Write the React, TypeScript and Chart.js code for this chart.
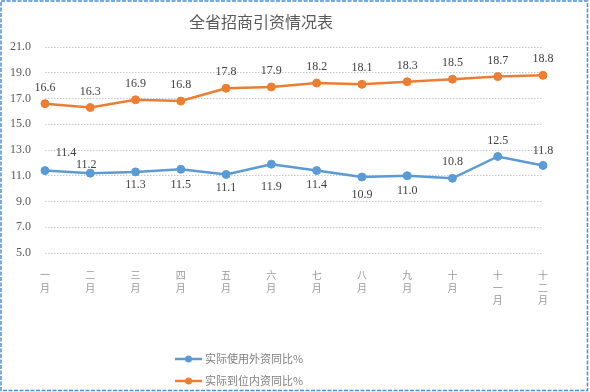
import React, { useEffect, useRef } from "react";
import { Chart, registerables } from "chart.js";

Chart.register(...registerables);

const title = "全省招商引资情况表";
const months = ["一月", "二月", "三月", "四月", "五月", "六月", "七月", "八月", "九月", "十月", "十一月", "十二月"];
const foreignName = "实际使用外资同比%";
const domesticName = "实际到位内资同比%";
const foreignValues = [11.4, 11.2, 11.3, 11.5, 11.1, 11.9, 11.4, 10.9, 11.0, 10.8, 12.5, 11.8];
const domesticValues = [16.6, 16.3, 16.9, 16.8, 17.8, 17.9, 18.2, 18.1, 18.3, 18.5, 18.7, 18.8];
const yMin = 5;
const yMax = 21;
const yStep = 2;

// label placement offsets (style only)
const foreignLabelOffsets: [number, number][] = [
  [21, -18], [-4, -8], [0, 13], [0, 16], [0, 13], [0, 23],
  [0, 14], [0, 18], [0, 15], [0, -16], [0, -16], [0, -15],
];
const domesticLabelOffsets: [number, number][] = months.map(() => [0, -16]);

const BLUE = "#5B9BD5";
const ORANGE = "#ED7D31";
const SERIF = '"Liberation Serif", "Noto Sans CJK SC", serif';
const CJK = '"Noto Sans CJK SC", "Noto Sans", sans-serif';

const decorPlugin = {
  id: "decor",
  afterDraw(chart: any) {
    const ctx = chart.ctx as CanvasRenderingContext2D;
    ctx.save();
    // title
    ctx.fillStyle = "#595959";
    ctx.font = `16px ${CJK}`;
    ctx.textAlign = "center";
    ctx.textBaseline = "middle";
    ctx.fillText(title, 261, 22);

    // data labels
    ctx.font = `12px ${SERIF}`;
    ctx.fillStyle = "#404040";
    const offs = [foreignLabelOffsets, domesticLabelOffsets];
    chart.data.datasets.forEach((ds: any, di: number) => {
      const meta = chart.getDatasetMeta(di);
      meta.data.forEach((pt: any, i: number) => {
        const [dx, dy] = offs[di][i];
        ctx.fillText(Number(ds.data[i]).toFixed(1), pt.x + dx, pt.y + dy);
      });
    });

    // legend
    const items = [
      { name: foreignName, color: BLUE, y: 359 },
      { name: domesticName, color: ORANGE, y: 381 },
    ];
    items.forEach((it) => {
      ctx.strokeStyle = it.color;
      ctx.lineWidth = 2.5;
      ctx.beginPath();
      ctx.moveTo(175, it.y);
      ctx.lineTo(202, it.y);
      ctx.stroke();
      ctx.fillStyle = it.color;
      ctx.beginPath();
      ctx.arc(188.5, it.y, 3.5, 0, Math.PI * 2);
      ctx.fill();
      ctx.fillStyle = "#7f7f7f";
      ctx.font = `11px ${CJK}`;
      ctx.textAlign = "left";
      ctx.fillText(it.name, 205, it.y);
    });

    // frame
    ctx.strokeStyle = "#4a8fd6";
    ctx.lineWidth = 1.5;
    ctx.setLineDash([4, 1.5]);
    ctx.strokeRect(1, 1, 586.5, 389.5);
    ctx.restore();
  },
};

export default function App() {
  const ref = useRef<HTMLCanvasElement>(null);
  useEffect(() => {
    if (!ref.current) return;
    const chart = new Chart(ref.current, {
      type: "line",
      data: {
        labels: months.map((m) => m.split("")),
        datasets: [
          {
            label: foreignName,
            data: foreignValues,
            borderColor: BLUE,
            backgroundColor: BLUE,
            borderWidth: 2.5,
            pointRadius: 4,
            pointBorderWidth: 1,
            pointBackgroundColor: BLUE,
            pointBorderColor: BLUE,
            tension: 0,
          },
          {
            label: domesticName,
            data: domesticValues,
            borderColor: ORANGE,
            backgroundColor: ORANGE,
            borderWidth: 2.5,
            pointRadius: 4,
            pointBorderWidth: 1,
            pointBackgroundColor: ORANGE,
            pointBorderColor: ORANGE,
            tension: 0,
          },
        ],
      },
      options: {
        responsive: false,
        animation: false,
        devicePixelRatio: 1,
        layout: { padding: { left: 0, right: 47, top: 47, bottom: 0 } },
        plugins: {
          legend: { display: false },
          title: { display: false },
          tooltip: { enabled: false },
        },
        scales: {
          x: {
            offset: false,
            grid: { display: false },
            border: { display: false },
            ticks: {
              autoSkip: false,
              maxRotation: 0,
              minRotation: 0,
              padding: 8,
              color: "#999999",
              font: { size: 10, family: CJK, lineHeight: 1.25 },
            },
            afterFit: (axis: any) => {
              axis.height = 392 - 253;
            },
          },
          y: {
            min: yMin,
            max: yMax,
            grid: {
              color: "#c8c8c8",
              lineWidth: 1,
              drawTicks: false,
            },
            border: { display: false, dash: [1.5, 1.5] },
            ticks: {
              stepSize: yStep,
              padding: 14,
              color: "#595959",
              font: { size: 12, family: SERIF },
              callback: (v: any) => Number(v).toFixed(1),
            },
            afterFit: (axis: any) => {
              axis.width = 45;
            },
          },
        },
      },
      plugins: [decorPlugin],
    });
    return () => chart.destroy();
  }, []);
  return (
    <div style={{ position: "fixed", left: 0, top: 0, width: 590, height: 392, background: "#fff" }}>
      <canvas ref={ref} width={590} height={392} style={{ width: 590, height: 392, display: "block" }} />
    </div>
  );
}
